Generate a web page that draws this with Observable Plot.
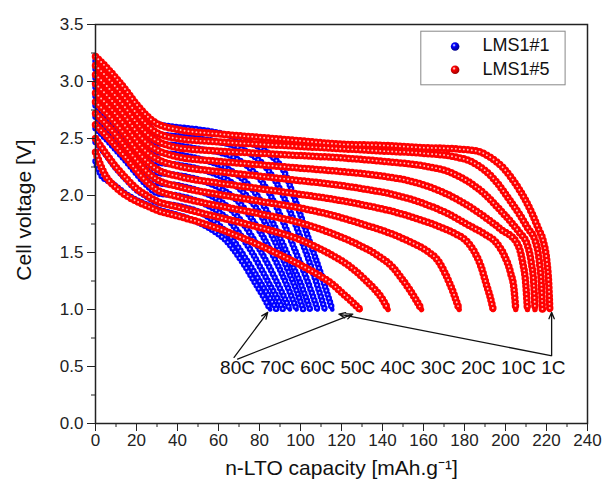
<!DOCTYPE html>
<html><head><meta charset="utf-8">
<script src="https://cdn.jsdelivr.net/npm/d3@7"></script>
<script src="https://cdn.jsdelivr.net/npm/@observablehq/plot@0.6"></script>
<style>body{margin:0;background:#fff;}#chart{width:609px;height:486px;}</style>
</head><body><div id="chart"></div>
<script>
// ---- data ----
const seriesNames = ["LMS1#1", "LMS1#5"];
const rateLabels = ["80C", "70C", "60C", "50C", "40C", "30C", "20C", "10C", "1C"];
const xTicks = [0, 20, 40, 60, 80, 100, 120, 140, 160, 180, 200, 220, 240];
const xMinorTicks = [10, 30, 50, 70, 90, 110, 130, 150, 170, 190, 210, 230];
const yTicks = [0, 0.5, 1.0, 1.5, 2.0, 2.5, 3.0, 3.5];
const yMinorTicks = [0.25, 0.75, 1.25, 1.75, 2.25, 2.75, 3.25];

// LMS1#1 (blue): capacity [mAh/g], voltage [V]
const lms1_a = [[0,3.18],[5,3.10],[10,3.00],[15,2.89],[20,2.77],[25,2.68],[30,2.63],[40,2.60],[50,2.58],[60,2.55],[70,2.50],[78,2.44],[85,2.36],[92,2.21],[98,1.93],[104,1.62],[110,1.31],[115.5,1.0]];
const lms1_b = [[0,3.11],[5,3.02],[10,2.92],[15,2.81],[20,2.69],[25,2.60],[30,2.54],[40,2.52],[50,2.50],[60,2.47],[70,2.42],[76,2.36],[82,2.27],[88,2.12],[94,1.90],[100,1.63],[106,1.33],[111.9,1.0]];
const lms1_c = [[0,3.03],[5,2.94],[10,2.84],[15,2.73],[20,2.61],[25,2.52],[30,2.46],[40,2.44],[50,2.41],[60,2.38],[68,2.33],[74,2.26],[80,2.15],[86,1.98],[92,1.75],[98,1.49],[103,1.27],[108.3,1.0]];
const lms1_d = [[0,2.95],[5,2.86],[10,2.76],[15,2.65],[20,2.53],[25,2.44],[30,2.38],[40,2.36],[55,2.30],[65,2.23],[72,2.14],[78,2.02],[84,1.85],[90,1.63],[95,1.43],[100,1.23],[104.7,1.0]];
const lms1_e = [[0,2.87],[5,2.78],[10,2.68],[15,2.57],[20,2.45],[25,2.36],[30,2.29],[40,2.27],[55,2.21],[65,2.13],[72,2.03],[78,1.90],[84,1.72],[89,1.54],[94,1.34],[98,1.17],[101.3,1.0]];
const lms1_f = [[0,2.79],[5,2.70],[10,2.60],[15,2.49],[20,2.37],[25,2.27],[30,2.20],[40,2.18],[55,2.11],[63,2.04],[70,1.94],[76,1.80],[82,1.63],[87,1.46],[92,1.27],[95.5,1.12],[98.1,1.0]];
const lms1_g = [[0,2.69],[5,2.60],[10,2.50],[15,2.39],[20,2.28],[25,2.18],[30,2.11],[40,2.09],[52,2.03],[60,1.96],[67,1.86],[73,1.73],[79,1.56],[84,1.40],[88.5,1.24],[92,1.11],[94.8,1.0]];
const lms1_h = [[0,2.59],[5,2.50],[10,2.40],[15,2.30],[20,2.19],[25,2.09],[30,2.02],[40,2.00],[50,1.95],[58,1.88],[64,1.80],[70,1.67],[76,1.51],[81,1.35],[85.5,1.20],[89,1.09],[91.5,1.0]];
const lms1_i = [[0,2.47],[5,2.36],[10,2.24],[15,2.14],[20,2.05],[25,1.99],[30,1.94],[40,1.91],[50,1.86],[56,1.80],[62,1.71],[67,1.61],[72,1.48],[77,1.34],[82,1.19],[85.5,1.09],[88.3,1.0]];
const lms1_j = [[0,2.30],[3,2.17],[6,2.13],[10,2.08],[15,2.01],[20,1.96],[25,1.92],[30,1.88],[40,1.83],[48,1.78],[55,1.72],[60,1.66],[64,1.60],[68,1.51],[73,1.38],[78,1.23],[82,1.11],[85.2,1.0]];

// LMS1#5 (red)
const lms5_a = [[0,3.22],[5,3.13],[10,3.03],[15,2.92],[20,2.80],[25,2.70],[30,2.63],[40,2.58],[60,2.54],[80,2.51],[100,2.48],[120,2.45],[140,2.44],[160,2.42],[175,2.41],[186,2.39],[193,2.33],[199,2.24],[205,2.10],[210,1.95],[213,1.84],[216,1.71],[218.4,1.60],[220.2,1.42],[221.1,1.22],[221.6,1.0]];
const lms5_b = [[0,3.14],[5,3.05],[10,2.95],[15,2.84],[20,2.72],[25,2.62],[30,2.55],[40,2.50],[60,2.47],[80,2.45],[100,2.43],[120,2.41],[140,2.39],[160,2.37],[175,2.34],[183,2.30],[190,2.22],[196,2.11],[202,1.96],[207,1.83],[211,1.71],[214.5,1.60],[216.5,1.42],[217.5,1.22],[218,1.0]];
const lms5_c = [[0,3.06],[5,2.97],[10,2.87],[15,2.76],[20,2.64],[25,2.54],[30,2.48],[40,2.42],[60,2.39],[80,2.37],[100,2.35],[120,2.33],[140,2.30],[160,2.26],[172,2.21],[182,2.12],[190,2.01],[197,1.88],[203,1.76],[207,1.67],[210.4,1.58],[212.5,1.42],[213.8,1.22],[214.4,1.0]];
const lms5_d = [[0,2.98],[5,2.89],[10,2.79],[15,2.68],[20,2.56],[25,2.46],[30,2.40],[40,2.34],[60,2.30],[80,2.27],[100,2.24],[120,2.21],[140,2.17],[155,2.12],[168,2.04],[180,1.93],[190,1.81],[198,1.70],[205.7,1.58],[208.3,1.42],[209.9,1.22],[210.7,1.0]];
const lms5_e = [[0,2.90],[5,2.81],[10,2.71],[15,2.60],[20,2.48],[25,2.38],[30,2.32],[40,2.26],[60,2.21],[80,2.17],[100,2.13],[115,2.10],[130,2.06],[145,2.01],[160,1.93],[172,1.84],[183,1.73],[190,1.66],[195.3,1.59],[199.5,1.47],[202.5,1.32],[204.2,1.17],[205,1.0]];
const lms5_f = [[0,2.82],[5,2.73],[10,2.63],[15,2.52],[20,2.40],[25,2.30],[30,2.23],[40,2.17],[60,2.11],[80,2.06],[100,2.01],[115,1.97],[130,1.92],[145,1.86],[158,1.79],[170,1.71],[176,1.66],[181,1.60],[185,1.50],[188,1.38],[190.5,1.23],[192.5,1.11],[194,1.0]];
const lms5_g = [[0,2.72],[5,2.63],[10,2.53],[15,2.42],[20,2.31],[25,2.21],[30,2.14],[40,2.08],[60,2.01],[80,1.95],[100,1.89],[115,1.83],[130,1.75],[145,1.66],[155,1.58],[162,1.51],[167,1.43],[171,1.30],[174.5,1.15],[177.4,1.0]];
const lms5_h = [[0,2.62],[5,2.53],[10,2.43],[15,2.33],[20,2.22],[25,2.12],[30,2.05],[40,1.99],[60,1.91],[80,1.84],[100,1.76],[115,1.67],[128,1.57],[138,1.47],[145,1.37],[149,1.28],[153,1.18],[156.5,1.08],[159,1.0]];
const lms5_i = [[0,2.50],[5,2.37],[10,2.25],[15,2.15],[20,2.06],[25,2.00],[30,1.95],[40,1.90],[60,1.81],[80,1.72],[100,1.61],[115,1.48],[124,1.38],[131,1.27],[136,1.18],[140,1.09],[142.7,1.0]];
const lms5_j = [[0,2.38],[5,2.17],[10,2.07],[15,2.00],[20,1.95],[25,1.91],[30,1.87],[40,1.82],[50,1.77],[70,1.64],[90,1.48],[100,1.39],[110,1.29],[115,1.23],[120,1.15],[125,1.07],[129,1.0]];

// annotation arrows (data units)
const arrowX1 = [67.6, 69.3, 222.5, 222.1];
const arrowY1 = [0.58, 0.565, 0.595, 0.595];
const arrowX2 = [84.0, 125.5, 222.5, 118.7];
const arrowY2 = [0.975, 0.96, 0.975, 0.96];
const rateLabelX = [145];
const rateLabelY = [0.49];

// ---- build tables ----
const lms1Curves = [lms1_a, lms1_b, lms1_c, lms1_d, lms1_e, lms1_f, lms1_g, lms1_h, lms1_i, lms1_j];
const lms5Curves = [lms5_a, lms5_b, lms5_c, lms5_d, lms5_e, lms5_f, lms5_g, lms5_h, lms5_i, lms5_j];
const toRows = (curves, name) => curves.flatMap((c, i) => c.map(([x, v]) => ({series: name, curve: name + "-" + i, x, v})));
const blueRows = toRows(lms1Curves, seriesNames[0]);
const redRows = toRows(lms5Curves, seriesNames[1]);
const arrows = arrowX1.map((d, i) => ({x1: d, y1: arrowY1[i], x2: arrowX2[i], y2: arrowY2[i]}));
const rateText = [{x: rateLabelX[0], y: rateLabelY[0], t: rateLabels.join(" ")}];

const colors = {"LMS1#1": "#0000ff", "LMS1#5": "#ff0000"};
const font = "'Liberation Sans', Arial, Helvetica, sans-serif";

function band(data, color, w) {
  const base = {x: "x", y: "v", z: "curve", curve: "monotone-x"};
  return [
    Plot.line(data, {...base, stroke: color, strokeWidth: w - 2}),
    Plot.line(data, {...base, stroke: color, strokeWidth: w, strokeDasharray: "0 4", strokeLinecap: "round"}),
    Plot.line(data, {...base, stroke: "#ffffff", strokeOpacity: 0.75, strokeWidth: 1.9, strokeDasharray: "0 4", strokeLinecap: "round"})
  ];
}

const legendMarks = seriesNames.flatMap((name, i) => [
  Plot.dot([name], {frameAnchor: "top-left", dx: 359.6, dy: 22 + i * 23.3, r: 4.3, fill: i === 0 ? "url(#gBlue)" : "url(#gRed)"}),
  Plot.text([name], {frameAnchor: "top-left", dx: 387, dy: 21 + i * 23.3, text: d => d, textAnchor: "start", lineAnchor: "middle", fontSize: 18, fill: "#111"})
]);

const chart = Plot.plot({
  width: 609, height: 486,
  marginLeft: 95, marginRight: 22, marginTop: 24, marginBottom: 63,
  style: {fontFamily: font, fontSize: "17px", color: "#222", background: "#fff"},
  x: {domain: [0, 240]},
  y: {domain: [0, 3.5]},
  marks: [
    ...band(blueRows, colors["LMS1#1"], 6.5),
    ...band(redRows, colors["LMS1#5"], 7.5),
    Plot.frame({stroke: "#222", strokeWidth: 1.5}),
    Plot.axisX({ticks: xTicks, tickSize: 8, tickPadding: 2, label: null, fontSize: 17}),
    Plot.axisX({ticks: xMinorTicks, tickSize: 4, tickFormat: () => "", label: null}),
    Plot.axisY({ticks: yTicks, tickSize: 8, tickPadding: 4, tickFormat: d3.format(".1f"), label: null, fontSize: 17}),
    Plot.axisY({ticks: yMinorTicks, tickSize: 4, tickFormat: () => "", label: null}),
    Plot.arrow(arrows, {x1: "x1", y1: "y1", x2: "x2", y2: "y2", stroke: "#111", strokeWidth: 1.3, headLength: 8, headAngle: 45}),
    Plot.text(rateText, {x: "x", y: "y", text: "t", fontSize: 19, fill: "#111"}),
    Plot.frame({insetLeft: 325.3, insetRight: 22.4, insetTop: 6.7, insetBottom: 338.7, stroke: "#888", strokeWidth: 1}),
    ...legendMarks,
    Plot.text(["Cell voltage [V]"], {frameAnchor: "left", dx: -71, dy: -14, rotate: -90, textAnchor: "middle", lineAnchor: "middle", fontSize: 21, fill: "#111"}),
    Plot.text(["n-LTO capacity [mAh.g⁻¹]"], {frameAnchor: "bottom", dy: 45, textAnchor: "middle", lineAnchor: "middle", fontSize: 21, fill: "#111"})
  ]
});

// sphere-like gradients for the legend symbols
const defs = d3.create("svg:defs");
[["gBlue", "#0000ff", "#00008a"], ["gRed", "#ff0000", "#9a0000"]].forEach(([id, c, dark]) => {
  const g = defs.append("radialGradient").attr("id", id).attr("cx", "38%").attr("cy", "35%").attr("r", "65%");
  g.append("stop").attr("offset", "0%").attr("stop-color", "#ffffff");
  g.append("stop").attr("offset", "30%").attr("stop-color", c);
  g.append("stop").attr("offset", "100%").attr("stop-color", dark);
});
chart.insertBefore(defs.node(), chart.firstChild);
document.getElementById("chart").appendChild(chart);
</script>
</body></html>
